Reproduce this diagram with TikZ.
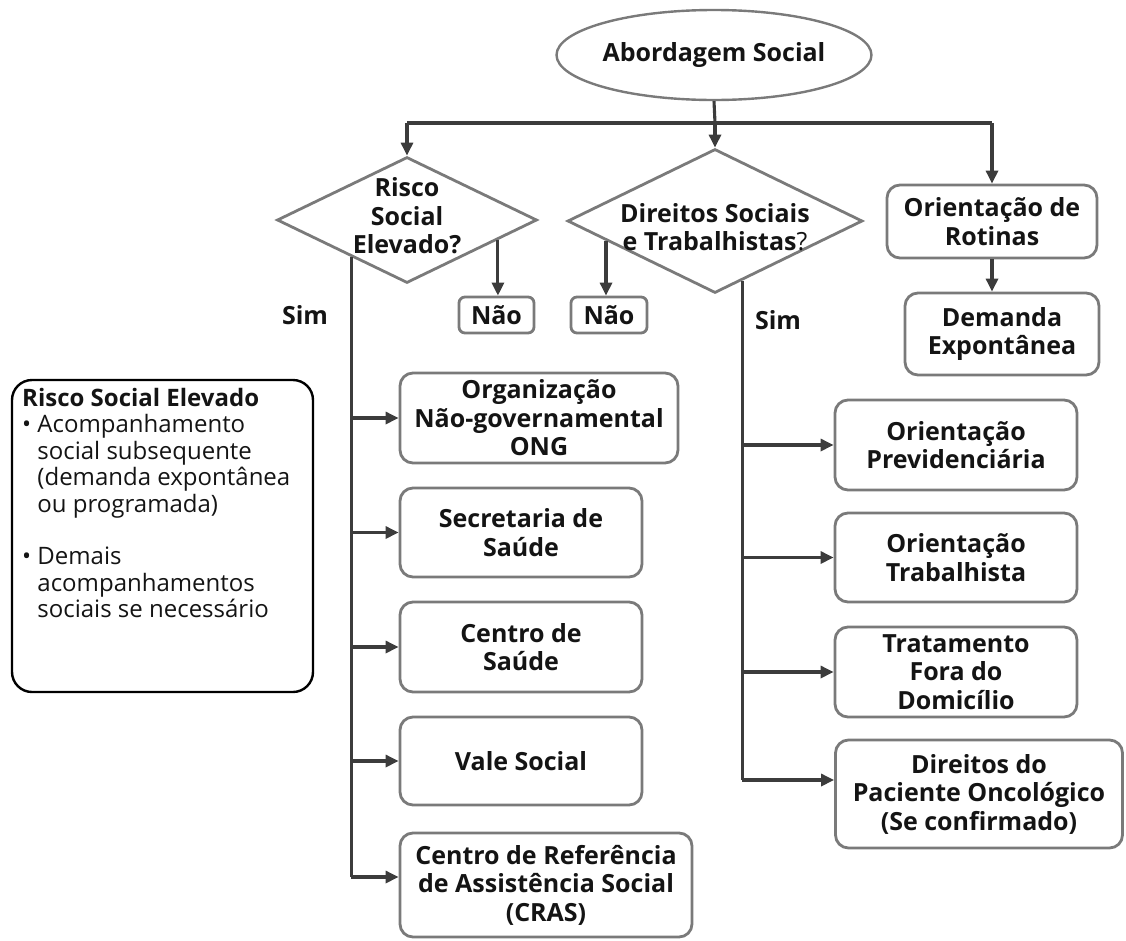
\documentclass[tikz,border=0pt]{standalone}
\usepackage{fontspec}
\setmainfont{Open Sans}
\usetikzlibrary{arrows.meta,shapes.geometric,calc}
\definecolor{boxgray}{HTML}{7A7A7A}
\definecolor{arrgray}{HTML}{3C3C3C}
\definecolor{txt}{HTML}{141414}
\tikzset{
  lbl/.style={font=\bfseries\fontsize{25}{28.5}\selectfont, text=txt, align=center, inner sep=0pt},
  rbox/.style={draw=boxgray, line width=2.8pt, rounded corners=13pt, fill=white, lbl},
  dia/.style={diamond, draw=boxgray, line width=2.8pt, inner sep=0pt},
  link/.style={draw=arrgray, line width=3.1pt},
  arr/.style={link, -{Triangle[length=13pt,width=12pt]}},
}
\begin{document}
\begin{tikzpicture}[x=1pt,y=-1pt]
\useasboundingbox (0,0) rectangle (1126,940);
% top
\node (abord) [ellipse, draw=boxgray, line width=2.4pt, minimum width=270pt, minimum height=90pt, inner sep=0pt, lbl] at (714,55) {Abordagem Social};
\node (d1) [dia, minimum width=260pt, minimum height=126pt] at (407,220) {};
\node (d1t) [lbl] at (407,216) {Risco\\Social\\Elevado?};
\node (d2) [dia, minimum width=295pt, minimum height=144pt] at (715,221) {};
\node (d2t) [lbl] at (715,227) {Direitos Sociais\\e Trabalhistas{\mdseries ?}};
\node (rot) [rbox, minimum width=210pt, minimum height=73pt] at (992,221.5) {Orientação de\\Rotinas};
\node (dem) [rbox, minimum width=194pt, minimum height=82pt] at (1002,334) {Demanda\\Expontânea};
\node (nao1) [rbox, rounded corners=6pt, minimum width=75pt, minimum height=36pt] at (496.5,315) {Não};
\node (nao2) [rbox, rounded corners=6pt, minimum width=76pt, minimum height=36pt] at (609,315) {Não};
\node (sim1) [lbl] at (305,315) {Sim};
\node (sim2) [lbl] at (778,320) {Sim};
% left column
\node (ong) [rbox, minimum width=278pt, minimum height=90pt] at (539,418) {Organização\\Não-governamental\\ONG};
\node (sec) [rbox, minimum width=242pt, minimum height=89pt] at (521,532.5) {Secretaria de\\Saúde};
\node (cen) [rbox, minimum width=242pt, minimum height=90pt] at (521,647) {Centro de\\Saúde};
\node (vale) [rbox, minimum width=242pt, minimum height=88pt] at (521,761) {Vale Social};
\node (cras) [rbox, minimum width=292pt, minimum height=104pt] at (546,885) {Centro de Referência\\de Assistência Social\\(CRAS)};
% right column
\node (prev) [rbox, minimum width=242pt, minimum height=90pt] at (956,445) {Orientação\\Previdenciária};
\node (trab) [rbox, minimum width=242pt, minimum height=89pt] at (956,557.5) {Orientação\\Trabalhista};
\node (trat) [rbox, minimum width=242pt, minimum height=90pt] at (956,672) {Tratamento\\Fora do\\Domicílio};
\node (dir) [rbox, minimum width=287pt, minimum height=108pt] at (979,794) {Direitos do\\Paciente Oncológico\\(Se confirmado)};
% note box
\node (note) [draw=black, line width=2.4pt, rounded corners=20pt, minimum width=301pt, minimum height=312pt] at (162.5,536) {};
\node (notet) [anchor=north west, align=left, inner sep=0pt, text=txt, font=\fontsize{24}{26.5}\selectfont] at (22,388) {%
\textbf{Risco Social Elevado}\\
\textbullet\ Acompanhamento\\
\hphantom{\textbullet\ }social subsequente\\
\hphantom{\textbullet\ }(demanda expontânea\\
\hphantom{\textbullet\ }ou programada)\\[26pt]
\textbullet\ Demais\\
\hphantom{\textbullet\ }acompanhamentos\\
\hphantom{\textbullet\ }sociais se necessário};
% connectors top
\coordinate (hub) at (715,123);
\draw[link] (abord.south) -- (hub);
\draw[link] (hub -| d1.north) -- (hub -| rot.north);
\draw[arr] (hub -| d1.north) -- (d1.north);
\draw[arr] (hub) -- (d2.north);
\draw[arr] (hub -| rot.north) -- (rot.north);
\draw[arr] (rot.south) -- (rot.south |- dem.north);
% Nao arrows
\coordinate (n1s) at ($(d1.south)!0.692!(d1.east)$);
\coordinate (n2s) at ($(d2.south)!0.732!(d2.west)$);
\draw[arr] (n1s) -- (n1s |- nao1.north);
\draw[arr] (n2s) -- (n2s |- nao2.north);
% left Sim branch
\coordinate (s1) at ($(d1.south)!0.423!(d1.west)$);
\coordinate (s1end) at ($(s1 |- cras.west)+(0,-8)$);
\draw[link] (s1) -- (s1end);
\draw[arr] (s1 |- ong.west) -- (ong.west);
\draw[arr] (s1 |- sec.west) -- (sec.west);
\draw[arr] (s1 |- cen.west) -- (cen.west);
\draw[arr] (s1 |- vale.west) -- (vale.west);
\draw[arr] (s1end) -- (s1end -| cras.west);
% right Sim branch
\coordinate (s2) at ($(d2.south)!0.183!(d2.east)$);
\coordinate (s2end) at ($(s2 |- dir.west)+(0,-14)$);
\draw[link] (s2) -- (s2end);
\draw[arr] (s2 |- prev.west) -- (prev.west);
\draw[arr] (s2 |- trab.west) -- (trab.west);
\draw[arr] (s2 |- trat.west) -- (trat.west);
\draw[arr] (s2end) -- (s2end -| dir.west);
\end{tikzpicture}
\end{document}
